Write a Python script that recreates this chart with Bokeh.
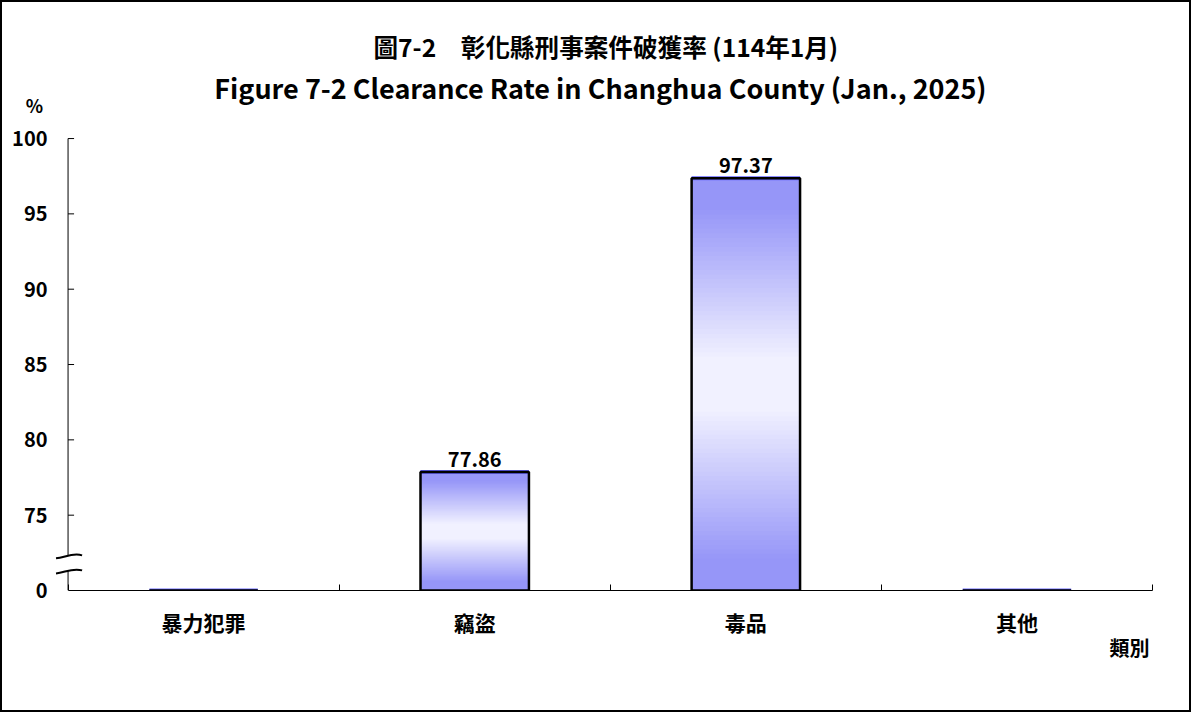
from bokeh.plotting import figure
from bokeh.models import Range1d, FixedTicker, Title
from bokeh.embed import file_html
from bokeh.resources import INLINE
from bokeh.core.properties import value

# ---------------- data ----------------
categories = ["暴力犯罪", "竊盜", "毒品", "其他"]
rates = [0.0, 77.86, 97.37, 0.0]
rate_labels = ["", "77.86", "97.37", ""]
y_ticks = [70, 75, 80, 85, 90, 95, 100]
y_tick_labels = ["0", "75", "80", "85", "90", "95", "100"]
title_zh = "圖7-2　彰化縣刑事案件破獲率 (114年1月)"
title_en = "Figure 7-2  Clearance Rate in Changhua County (Jan., 2025)"
y_unit = "%"
x_title = "類別"

# ---------------- style ----------------
FONT = "Noto Sans CJK TC"
BLUE = (150, 150, 248)
WHITE = (241, 241, 255)
AXIS_BASE = 70          # broken axis: "0" sits at 70
Y_TOP = 102.26          # room above 100 for the "%" caption
BREAK_LOW, BREAK_HIGH = 71.3, 72.3
BAR_W = 0.40
N_SLICES = 90
PX_X = 1 / 270.25       # one pixel in x data units
PX_Y = 1 / 15.07        # one pixel in y data units

def blend(t):
    # t = 0 at bar bottom, 1 at bar top; blue at both ends, white in middle
    d = abs(t - 0.5) * 2
    if d < 0.12:
        w = 0.0
    elif d > 0.85:
        w = 1.0
    else:
        w = (d - 0.12) / (0.85 - 0.12)
    c = [round(WHITE[k] + (BLUE[k] - WHITE[k]) * w) for k in range(3)]
    return "#%02x%02x%02x" % tuple(c)

p = figure(width=1191, height=712, x_range=Range1d(-0.05, 4.0),
           y_range=Range1d(AXIS_BASE, Y_TOP), output_backend="svg",
           toolbar_location=None, min_border_left=52, min_border_right=41,
           min_border_top=102, min_border_bottom=124)
p.styles = {"border": "2px solid black"}
p.xgrid.grid_line_color = None
p.ygrid.grid_line_color = None
p.outline_line_color = None
p.background_fill_color = "white"
p.border_fill_color = "white"

centers = [i + 0.5 for i in range(len(categories))]
display = [r if r >= 75 else AXIS_BASE for r in rates]

# gradient bars (overlapping slices to avoid seams)
for cx, top in zip(centers, display):
    if top <= AXIS_BASE:
        continue
    h = (top - AXIS_BASE) / N_SLICES
    bottoms = [AXIS_BASE + k * h for k in range(N_SLICES)]
    tops = [min(b + 2.5 * h, top) for b in bottoms]
    cols = [blend((k + 0.5) / N_SLICES) for k in range(N_SLICES)]
    p.quad(left=cx - BAR_W / 2, right=cx + BAR_W / 2, bottom=bottoms, top=tops,
           fill_color=cols, line_color=None)

# zero-height bars get a thin blue line under the outline
p.segment(x0=[c - BAR_W / 2 for c in centers], x1=[c + BAR_W / 2 for c in centers],
          y0=display, y1=display, line_color="#6666ff", line_width=4)
p.vbar(x=centers, width=BAR_W, bottom=AXIS_BASE, top=display,
       fill_color=None, line_color="black", line_width=2.5)

p.text(x=centers, y=display, text=rate_labels, y_offset=-5,
       text_align="center", text_baseline="bottom", text_font=value(FONT),
       text_font_size="20px", text_font_style="bold", text_color="black")

# x axis
xa = p.xaxis[0]
xa.ticker = FixedTicker(ticks=centers, minor_ticks=list(range(len(categories) + 1)))
xa.major_label_overrides = {c: n for c, n in zip(centers, categories)}
xa.bounds = (0, len(categories))
xa.major_tick_line_color = None
xa.major_tick_in = 0
xa.major_tick_out = 0
xa.minor_tick_in = 6
xa.minor_tick_out = 0
xa.minor_tick_line_color = "black"
xa.axis_line_color = "black"
xa.major_label_standoff = 16
xa.major_label_text_font = FONT
xa.major_label_text_font_size = "21px"
xa.major_label_text_font_style = "bold"
xa.major_label_text_color = "black"

# category-axis caption, right-aligned under the axis end
p.add_layout(Title(text=x_title, align="right", offset=3, standoff=-18, text_font=FONT,
                   text_font_size="20px", text_font_style="bold",
                   text_color="black"), "below")

# y axis: labels from Bokeh axis, line + ticks drawn at x = 0 (with break)
ya = p.yaxis[0]
ya.ticker = FixedTicker(ticks=y_ticks)
ya.major_label_overrides = {t: s for t, s in zip(y_ticks, y_tick_labels)}
ya.major_tick_line_color = None
ya.major_tick_in = 0
ya.major_tick_out = 0
ya.minor_tick_line_color = None
ya.axis_line_color = None
ya.major_label_standoff = 7
ya.major_label_text_font = FONT
ya.major_label_text_font_size = "20px"
ya.major_label_text_font_style = "bold"
ya.major_label_text_color = "black"
ya.axis_label = y_unit
ya.axis_label_orientation = "horizontal"
ya.axis_label_align = "end"
ya.axis_label_standoff = -34
ya.axis_label_text_font = FONT
ya.axis_label_text_font_size = "18px"
ya.axis_label_text_font_style = "bold"
ya.axis_label_text_color = "black"

p.segment(x0=[0, 0], x1=[0, 0], y0=[AXIS_BASE, BREAK_HIGH], y1=[BREAK_LOW, y_ticks[-1]],
          line_color="black", line_width=1)
p.segment(x0=0, x1=6 * PX_X, y0=y_ticks[1:], y1=y_ticks[1:],
          line_color="black", line_width=1)

# axis break marks
for yb in (BREAK_HIGH, BREAK_LOW):
    p.bezier(x0=-12 * PX_X, y0=yb - 2.5 * PX_Y, x1=14 * PX_X, y1=yb + 0.5 * PX_Y,
             cx0=-3 * PX_X, cy0=yb - 1.5 * PX_Y, cx1=5 * PX_X, cy1=yb + 3.5 * PX_Y,
             line_color="black", line_width=2)

# titles (first in list is outermost)
p.title.text = title_zh
p.title.align = "left"
p.title.offset = 319
p.title.text_font = FONT
p.title.text_font_size = "24.6px"
p.title.text_font_style = "bold"
p.title.text_color = "black"
p.title.standoff = 10
p.add_layout(Title(text=title_en, align="center", text_font=FONT, text_color="black",
                   text_font_size="27px", text_font_style="bold", standoff=-5), "above")

open("out.html", "w").write(file_html(p, INLINE))
